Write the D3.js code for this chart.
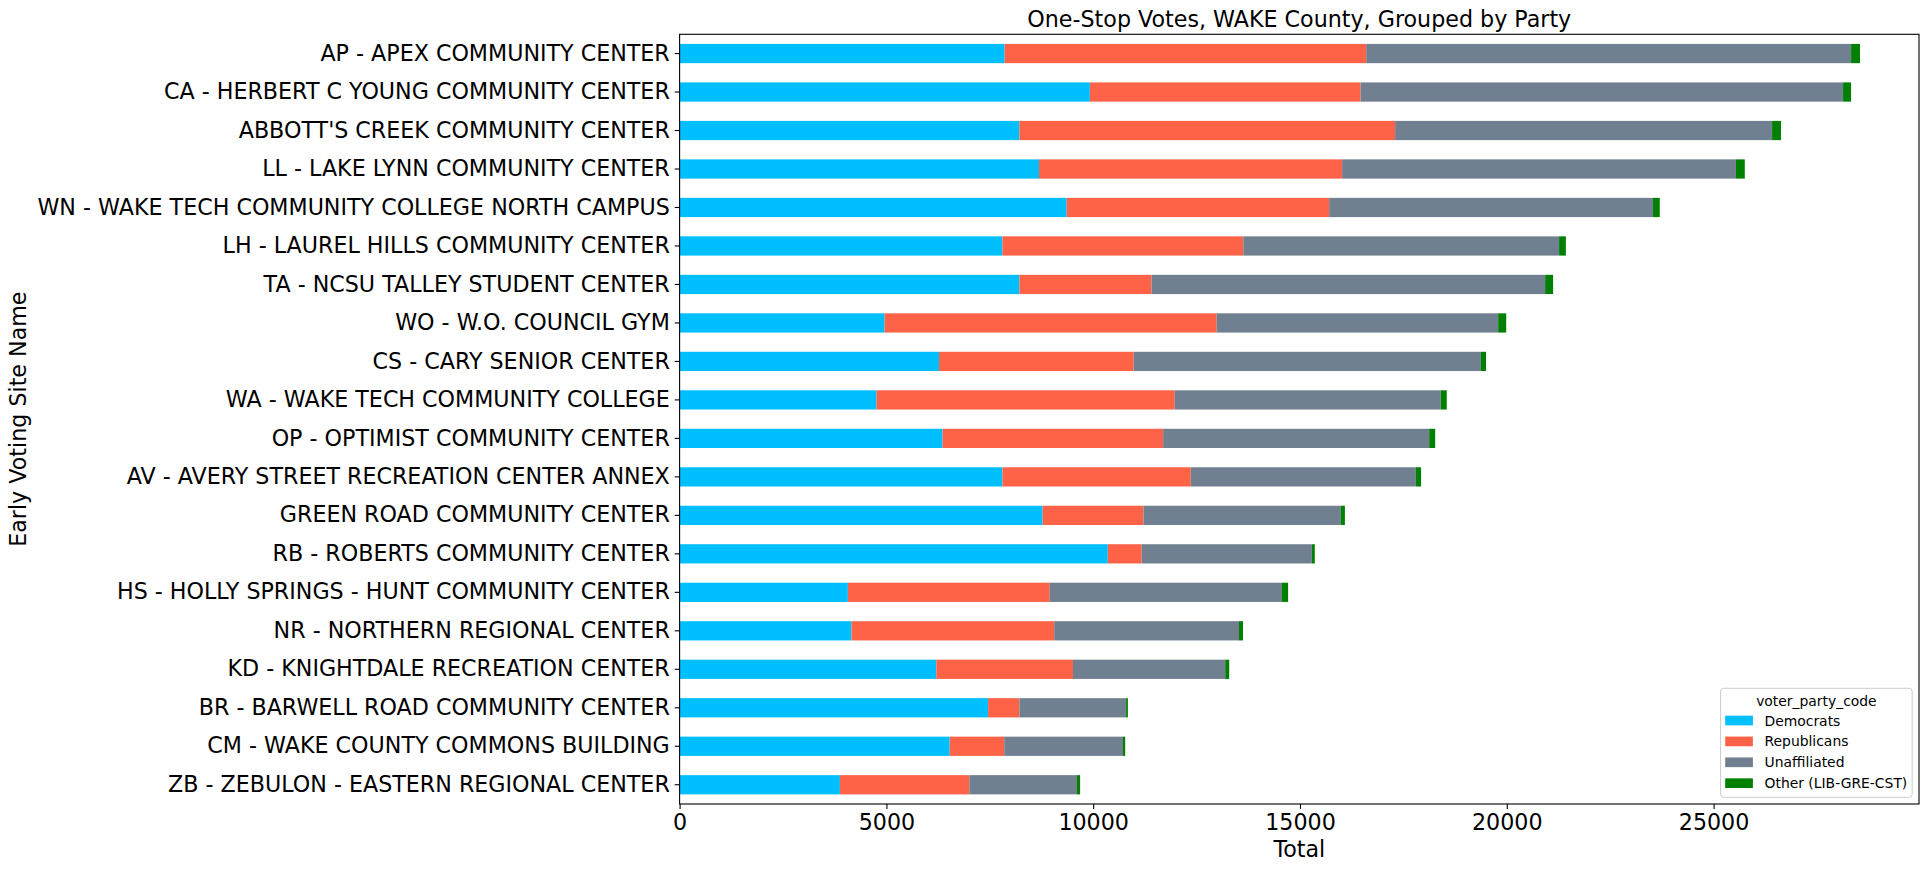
<!DOCTYPE html>
<html><head><meta charset="utf-8">
<script src="https://cdn.jsdelivr.net/npm/d3@7"></script>
<style>
html,body{margin:0;padding:0;background:#fff;}
svg{display:block;font-family:"DejaVu Sans",sans-serif;}
</style>
</head><body>
<svg id="chart" width="1929" height="869"></svg>
<script>
// ---- data (top to bottom as drawn) ----
const sites = [
  "AP - APEX COMMUNITY CENTER",
  "CA - HERBERT C YOUNG COMMUNITY CENTER",
  "ABBOTT'S CREEK COMMUNITY CENTER",
  "LL - LAKE LYNN COMMUNITY CENTER",
  "WN - WAKE TECH COMMUNITY COLLEGE NORTH CAMPUS",
  "LH - LAUREL HILLS COMMUNITY CENTER",
  "TA - NCSU TALLEY STUDENT CENTER",
  "WO - W.O. COUNCIL GYM",
  "CS - CARY SENIOR CENTER",
  "WA - WAKE TECH COMMUNITY COLLEGE",
  "OP - OPTIMIST COMMUNITY CENTER",
  "AV - AVERY STREET RECREATION CENTER ANNEX",
  "GREEN ROAD COMMUNITY CENTER",
  "RB - ROBERTS COMMUNITY CENTER",
  "HS - HOLLY SPRINGS - HUNT COMMUNITY CENTER",
  "NR - NORTHERN REGIONAL CENTER",
  "KD - KNIGHTDALE RECREATION CENTER",
  "BR - BARWELL ROAD COMMUNITY CENTER",
  "CM - WAKE COUNTY COMMONS BUILDING",
  "ZB - ZEBULON - EASTERN REGIONAL CENTER"
];
const democrats    = [7858, 9920, 8216, 8690, 9359, 7805, 8216, 4957, 6272, 4761, 6359, 7805, 8777, 10353, 4069, 4156, 6207, 7459, 6531, 3876];
const republicans  = [8743, 6546, 9084, 7328, 6346, 5824, 3194, 8029, 4708, 7210, 5332, 4555, 2439,   820, 4879, 4901, 3305,  757, 1317, 3131];
const unaffiliated = [11724,11665, 9115, 9523, 7830, 7636, 9517, 6806, 8394, 6433, 6433, 5443, 4772,  4115, 5615, 4468, 3680, 2580, 2873, 2602];
const other        = [  215,  194,  215,  214,  164,  164,  193,  194,  125,  145,  145,  125,   98,    70,  150,   97,   97,   43,   53,   75];
const seriesNames  = ["Democrats", "Republicans", "Unaffiliated", "Other (LIB-GRE-CST)"];
const seriesColors = ["#00BFFF", "#FF6347", "#708090", "#008000"];
const xTicks       = [0, 5000, 10000, 15000, 20000, 25000];
const chartTitle   = "One-Stop Votes, WAKE County, Grouped by Party";
const xLabel       = "Total";
const yLabel       = "Early Voting Site Name";
const legendTitle  = "voter_party_code";

// ---- layout ----
const L = 679.6, R = 1919, T = 34.3, B = 804;
const FS = 22.2, LFS = 13.9;

const rows = sites.map((s, i) => ({
  site: s,
  [seriesNames[0]]: democrats[i],
  [seriesNames[1]]: republicans[i],
  [seriesNames[2]]: unaffiliated[i],
  [seriesNames[3]]: other[i]
}));
const totals = rows.map(r => seriesNames.reduce((a, k) => a + r[k], 0));
const xMax = d3.max(totals) * 1.05;

const svg = d3.select("#chart");
const x = d3.scaleLinear().domain([0, xMax]).range([L, R]);
const y = d3.scaleBand().domain(sites).range([T, B]).paddingInner(0.5).paddingOuter(0.25);
const color = d3.scaleOrdinal().domain(seriesNames).range(seriesColors);

const stacked = d3.stack().keys(seriesNames)(rows);

svg.append("g").selectAll("g").data(stacked).join("g")
  .attr("fill", d => color(d.key))
  .selectAll("rect").data(d => d).join("rect")
  .attr("x", d => x(d[0]))
  .attr("width", d => x(d[1]) - x(d[0]))
  .attr("y", d => y(d.data.site))
  .attr("height", y.bandwidth());

// axes
const xAxis = svg.append("g").attr("transform", `translate(0,${B})`)
  .call(d3.axisBottom(x).tickValues(xTicks).tickFormat(d3.format("d")).tickSize(4.9).tickPadding(5.3));
xAxis.select(".domain").remove();
xAxis.selectAll("text").attr("font-size", FS).attr("fill", "#000").attr("font-family", "DejaVu Sans");
xAxis.selectAll("line").attr("stroke", "#000").attr("stroke-width", 1.1);

const yAxis = svg.append("g").attr("transform", `translate(${L},0)`)
  .call(d3.axisLeft(y).tickSize(4.9).tickPadding(4.9));
yAxis.select(".domain").remove();
yAxis.selectAll("text").attr("font-size", FS).attr("fill", "#000").attr("font-family", "DejaVu Sans");
yAxis.selectAll("line").attr("stroke", "#000").attr("stroke-width", 1.1);

// spines
svg.append("rect").attr("x", L).attr("y", T).attr("width", R - L).attr("height", B - T)
  .attr("fill", "none").attr("stroke", "#000").attr("stroke-width", 1.1);

// title & labels
svg.append("text").attr("x", (L + R) / 2).attr("y", 27).attr("text-anchor", "middle")
  .attr("font-size", FS).text(chartTitle);
svg.append("text").attr("x", (L + R) / 2).attr("y", 856.5).attr("text-anchor", "middle")
  .attr("font-size", FS).text(xLabel);
svg.append("text").attr("transform", `translate(26,${(T + B) / 2}) rotate(-90)`)
  .attr("text-anchor", "middle").attr("font-size", FS).text(yLabel);

// legend
const lgX = 1720.6, lgY = 688.3, lgW = 191.6, lgH = 109;
const lg = svg.append("g");
lg.append("rect").attr("x", lgX).attr("y", lgY).attr("width", lgW).attr("height", lgH)
  .attr("rx", 3).attr("fill", "#fff").attr("fill-opacity", 0.8)
  .attr("stroke", "#cccccc").attr("stroke-width", 1);
lg.append("text").attr("x", lgX + lgW / 2).attr("y", 705.5).attr("text-anchor", "middle")
  .attr("font-size", LFS).text(legendTitle);
seriesNames.forEach((n, i) => {
  const cy = 720.5 + i * 20.9;
  lg.append("rect").attr("x", 1725.2).attr("y", cy - 4.85).attr("width", 27.7).attr("height", 9.7)
    .attr("fill", color(n));
  lg.append("text").attr("x", 1764.5).attr("y", cy).attr("dy", "0.36em")
    .attr("font-size", LFS).text(n);
});
</script>
</body></html>
